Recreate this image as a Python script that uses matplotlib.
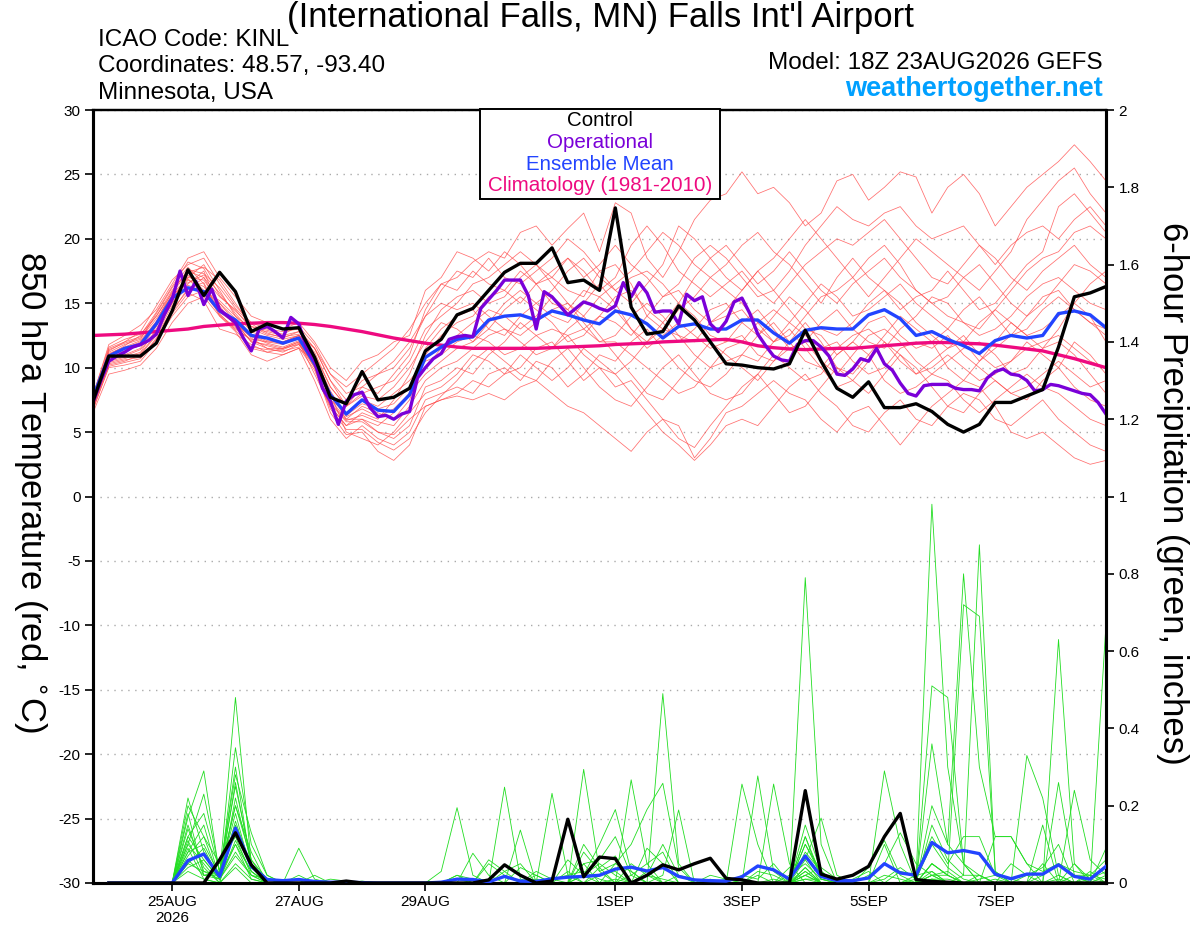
import numpy as np
import pandas as pd
import matplotlib
matplotlib.use("Agg")
import matplotlib.pyplot as plt
import matplotlib.dates as mdates
from matplotlib.patches import Rectangle

plt.rcParams['font.family'] = ['Liberation Sans', 'DejaVu Sans']

# GEFS run 18Z 23AUG2026, 6-hourly steps out to 16 days
run_start = '2026-08-23 18:00'
n_steps = 65

tick_dates = ['2026-08-25', '2026-08-27', '2026-08-29', '2026-09-01',
              '2026-09-03', '2026-09-05', '2026-09-07']
tick_labels = ['25AUG\n2026', '27AUG', '29AUG', '1SEP', '3SEP', '5SEP', '7SEP']

## 850 hPa temperature (C)
control_t = [7.4, 10.9, 10.9, 10.9, 11.9, 14.4, 17.6, 15.6, 17.4, 15.9, 12.8, 13.4, 13.0,
             13.1, 10.8, 7.7, 7.2, 9.7, 7.5, 7.7, 8.4, 11.3, 12.2, 14.1, 14.6, 16.0,
             17.4, 18.1, 18.1, 19.3, 16.6, 16.8, 16.0, 22.4, 14.7, 12.6, 12.8, 14.8, 13.7,
             12.0, 10.3, 10.2, 10.0, 9.9, 10.3, 12.9, 10.5, 8.4, 7.7, 8.9, 6.9, 6.9,
             7.2, 6.6, 5.6, 5.0, 5.6, 7.3, 7.3, 7.8, 8.3, 11.6, 15.5, 15.8, 16.3]

mean_t = [7.7, 10.9, 11.5, 11.8, 13.4, 15.4, 16.2, 15.9, 14.4, 13.7, 12.5, 12.3, 11.9,
          12.3, 10.3, 7.9, 6.4, 7.5, 6.7, 6.6, 7.9, 10.8, 11.6, 12.2, 12.4, 13.7,
          14.0, 14.1, 13.7, 14.4, 14.1, 13.7, 13.4, 14.4, 14.1, 13.4, 12.3, 13.2, 13.4,
          13.0, 13.0, 13.7, 13.7, 12.7, 11.9, 12.9, 13.1, 13.0, 13.0, 14.1, 14.5, 13.8,
          12.5, 12.8, 12.2, 11.7, 11.1, 12.1, 12.5, 12.3, 12.5, 14.2, 14.4, 14.1, 13.1]

clim_t = [12.5, 12.55, 12.6, 12.7, 12.8, 12.9, 13.0, 13.2, 13.3, 13.4, 13.45, 13.5, 13.5,
          13.45, 13.35, 13.2, 13.0, 12.8, 12.55, 12.3, 12.1, 11.9, 11.75, 11.6, 11.5, 11.5,
          11.5, 11.5, 11.5, 11.55, 11.6, 11.65, 11.7, 11.8, 11.85, 11.9, 12.0, 12.05, 12.1,
          12.15, 12.2, 12.0, 11.7, 11.55, 11.45, 11.4, 11.45, 11.5, 11.5, 11.6, 11.7, 11.8,
          11.9, 11.95, 11.95, 11.9, 11.85, 11.75, 11.6, 11.45, 11.3, 11.0, 10.7, 10.35, 10.0]

# operational run comes in 3-hourly
oper_t = [7.3, 9.0, 10.5, 10.9, 11.2, 11.6, 11.8, 12.1, 12.6, 14.1, 15.3, 17.5, 15.6, 16.7,
          14.9, 16.1, 14.5, 14.0, 13.5, 12.3, 11.3, 13.0, 13.2, 12.8, 12.3, 13.9, 13.4,
          11.5, 10.5, 8.4, 7.4, 5.6, 7.4, 7.9, 8.1, 6.9, 6.2, 6.3, 6.0, 6.4, 6.6, 9.2,
          10.0, 10.7, 11.1, 12.2, 12.4, 12.5, 12.4, 14.6, 15.3, 16.0, 16.8, 16.8, 16.8,
          15.6, 13.0, 15.9, 15.5, 14.8, 14.1, 14.6, 15.1, 14.9, 14.6, 14.4, 14.8, 16.6,
          15.5, 16.6, 15.8, 14.3, 14.4, 14.4, 13.4, 15.7, 15.2, 15.5, 13.4, 12.8, 13.6,
          15.1, 15.4, 14.2, 12.6, 11.7, 10.9, 10.6, 10.5, 11.8, 12.1, 12.1, 11.6, 10.9,
          9.5, 9.4, 9.9, 10.7, 10.5, 11.5, 10.3, 9.8, 8.8, 8.0, 7.8, 8.6, 8.7, 8.7, 8.7,
          8.4, 8.3, 8.3, 8.2, 9.2, 9.7, 9.9, 9.5, 9.4, 9.0, 8.2, 8.3, 8.7, 8.6, 8.4, 8.2,
          8.0, 7.9, 7.3, 6.4]

# ensemble members
mem_t01 = [7.2, 11.5, 12.0, 12.4, 14.0, 16.0, 17.5, 17.0, 15.5, 14.5, 13.0, 12.8, 12.5,
           12.8, 11.0, 8.5, 7.0, 8.5, 8.0, 9.5, 11.0, 14.5, 16.5, 17.0, 18.2, 19.0, 18.5,
           20.5, 21.0, 19.5, 20.8, 22.0, 19.0, 22.8, 22.0, 18.5, 17.0, 19.0, 21.5, 23.0,
           23.5, 25.2, 23.5, 24.0, 22.8, 21.0, 22.0, 24.5, 25.0, 23.0, 24.0, 25.2, 24.8,
           22.0, 24.0, 25.0, 23.5, 21.0, 22.5, 24.0, 25.0, 26.0, 27.3, 26.0, 24.5]
mem_t02 = [6.8, 10.0, 10.2, 10.5, 12.0, 14.0, 15.5, 16.0, 15.0, 13.5, 12.0, 11.5, 11.5,
           11.8, 10.0, 6.5, 4.8, 5.0, 3.5, 2.8, 4.0, 7.0, 7.5, 7.8, 7.5, 8.0, 7.5, 8.5,
           9.0, 8.0, 7.0, 6.5, 5.5, 4.5, 3.5, 5.0, 6.0, 5.5, 3.0, 4.5, 6.5, 7.0, 8.0, 9.0,
           8.0, 7.5, 6.0, 5.0, 6.5, 7.0, 5.5, 4.0, 5.5, 7.0, 8.0, 9.0, 8.5, 7.0, 5.0, 4.5,
           5.0, 4.0, 3.0, 2.5, 2.8]
mem_t03 = [7.5, 11.0, 11.5, 12.0, 13.5, 15.5, 17.0, 18.0, 16.0, 14.0, 12.5, 12.0, 12.0,
           12.5, 10.5, 7.5, 6.0, 7.0, 6.5, 6.0, 7.5, 11.0, 12.5, 13.5, 14.0, 15.5, 16.0,
           15.0, 16.5, 17.0, 16.0, 15.5, 17.5, 18.0, 16.5, 14.0, 13.0, 14.5, 15.5, 17.0,
           16.0, 15.0, 13.5, 12.0, 12.5, 14.0, 15.5, 16.0, 17.0, 18.5, 19.5, 18.0, 16.0,
           15.0, 14.0, 13.5, 13.0, 14.5, 16.0, 17.5, 18.5, 19.0, 20.5, 21.0, 20.0]
mem_t04 = [7.0, 10.5, 10.8, 11.2, 13.0, 15.0, 16.5, 17.5, 14.5, 13.5, 12.0, 11.8, 11.5,
           12.0, 9.5, 7.0, 5.5, 6.0, 5.0, 4.5, 5.5, 8.5, 9.0, 10.0, 9.5, 11.0, 12.0, 13.5,
           12.5, 11.5, 13.0, 14.0, 12.5, 11.0, 9.5, 8.0, 7.5, 9.0, 10.5, 12.0, 11.0, 10.0,
           9.0, 10.5, 11.5, 12.0, 10.5, 9.5, 11.0, 12.5, 13.0, 12.0, 10.5, 9.5, 10.5, 11.5,
           12.0, 11.0, 9.5, 10.0, 11.5, 12.0, 11.0, 9.5, 8.0]
mem_t05 = [7.8, 11.8, 12.5, 13.3, 14.5, 16.5, 18.5, 19.0, 17.0, 15.5, 14.0, 13.5, 13.0,
           13.5, 12.0, 10.0, 9.0, 10.5, 11.0, 12.0, 12.5, 16.0, 17.0, 19.0, 18.5, 17.5,
           19.0, 18.0, 16.5, 15.0, 14.5, 16.0, 15.5, 16.5, 17.5, 19.0, 20.5, 19.5, 18.0,
           17.0, 18.0, 19.5, 20.5, 19.0, 18.0, 16.5, 15.0, 17.0, 18.5, 17.0, 16.0, 14.5,
           15.5, 16.0, 17.5, 16.0, 14.5, 15.0, 16.5, 18.0, 19.0, 22.5, 23.5, 22.0, 20.5]
mem_t06 = [6.5, 9.5, 9.8, 10.2, 11.5, 13.5, 15.0, 15.5, 14.0, 12.8, 11.0, 10.5, 11.0,
           11.5, 10.5, 8.0, 5.0, 4.5, 4.0, 5.0, 6.5, 8.0, 8.5, 9.5, 11.0, 10.5, 9.5, 10.0,
           11.5, 12.0, 10.5, 9.0, 10.0, 8.5, 9.0, 7.5, 6.0, 4.5, 3.8, 5.5, 7.0, 8.5, 9.5,
           8.0, 6.5, 7.0, 8.5, 10.0, 9.0, 8.0, 9.5, 11.0, 10.0, 8.5, 7.0, 6.5, 8.0, 9.0,
           8.0, 7.5, 9.0, 10.0, 12.0, 11.0, 9.5]
mem_t07 = [7.3, 11.2, 11.8, 12.2, 14.2, 16.2, 17.8, 16.5, 14.0, 13.0, 12.2, 12.0, 11.8,
           12.3, 10.0, 7.0, 5.5, 6.5, 6.0, 7.5, 9.5, 12.5, 14.5, 15.5, 16.0, 15.0, 15.5,
           17.0, 18.0, 16.5, 15.0, 14.0, 15.5, 14.5, 13.0, 12.0, 13.5, 15.0, 14.0, 12.5,
           12.0, 13.5, 14.5, 13.0, 11.5, 12.0, 13.5, 14.5, 13.0, 12.0, 11.5, 13.0, 14.0,
           15.5, 15.0, 13.5, 12.5, 13.0, 14.0, 15.5, 16.5, 17.0, 16.0, 15.0, 14.5]
mem_t08 = [7.6, 10.8, 11.0, 11.5, 13.2, 15.2, 17.2, 16.0, 15.2, 14.0, 13.0, 12.5, 12.2,
           12.5, 11.5, 9.5, 8.0, 8.5, 9.5, 10.5, 12.0, 14.0, 15.0, 14.5, 15.0, 14.0, 13.0,
           12.5, 13.5, 14.5, 15.0, 13.5, 12.0, 12.5, 14.0, 15.0, 14.0, 12.5, 12.0, 13.5,
           14.5, 16.0, 17.5, 16.0, 14.5, 13.0, 12.5, 11.0, 12.0, 13.5, 14.0, 12.5, 11.5,
           12.0, 13.0, 12.0, 10.5, 11.5, 12.5, 14.0, 15.0, 16.5, 18.0, 17.5, 16.5]
mem_t09 = [7.1, 10.2, 10.5, 11.0, 12.5, 14.5, 16.0, 17.0, 14.8, 13.2, 11.5, 11.2, 11.0,
           11.5, 9.0, 6.0, 4.5, 5.5, 4.5, 4.0, 5.0, 7.5, 8.0, 8.5, 8.0, 9.5, 10.0, 9.0,
           10.5, 10.0, 8.5, 9.5, 11.0, 10.5, 12.0, 13.0, 11.5, 10.0, 9.0, 8.5, 9.5, 11.0,
           10.5, 12.0, 13.0, 11.5, 10.0, 8.5, 9.0, 10.5, 12.0, 11.0, 9.5, 10.0, 11.0, 10.0,
           9.0, 9.5, 10.5, 12.0, 11.0, 10.0, 8.5, 7.5, 7.0]
mem_t10 = [7.4, 11.3, 12.0, 12.8, 14.8, 16.8, 18.0, 18.5, 16.5, 14.8, 13.5, 13.0, 12.8,
           13.0, 11.5, 9.0, 7.5, 9.0, 9.5, 10.0, 11.5, 14.0, 16.0, 17.5, 17.0, 18.5, 17.0,
           16.5, 17.5, 18.5, 20.0, 19.0, 17.5, 16.0, 15.0, 16.5, 18.0, 21.0, 20.0, 18.5,
           17.0, 16.0, 17.5, 18.5, 20.0, 21.5, 20.0, 18.5, 17.0, 15.5, 17.0, 18.5, 20.0,
           19.0, 18.0, 17.0, 16.0, 17.5, 19.0, 21.5, 23.0, 24.5, 25.5, 23.5, 22.0]
mem_t11 = [7.0, 10.6, 10.9, 11.4, 12.8, 15.0, 16.8, 16.3, 14.6, 13.5, 12.3, 11.5, 11.2,
           11.8, 10.5, 7.5, 6.5, 7.5, 7.0, 8.0, 9.0, 10.5, 11.0, 12.0, 12.5, 12.0, 11.0,
           11.5, 12.5, 13.0, 12.5, 11.0, 10.0, 9.5, 10.5, 12.0, 13.0, 12.5, 11.0, 10.0,
           10.5, 11.0, 12.5, 13.5, 12.0, 10.5, 10.0, 11.5, 12.5, 13.0, 12.0, 10.5, 9.5,
           10.5, 11.5, 12.5, 11.0, 10.0, 10.5, 11.5, 12.0, 12.5, 11.5, 10.5, 10.0]
mem_t12 = [7.9, 11.6, 12.2, 12.6, 14.0, 15.8, 17.4, 17.8, 16.8, 15.0, 13.2, 12.6, 12.4,
           12.6, 10.8, 8.0, 6.0, 6.0, 5.5, 6.5, 8.0, 11.5, 13.0, 14.0, 14.5, 13.0, 12.5,
           14.0, 15.0, 14.0, 13.5, 15.0, 16.5, 15.0, 13.0, 11.5, 12.5, 13.5, 12.5, 11.5,
           12.0, 12.5, 11.0, 10.5, 12.0, 13.5, 12.0, 10.0, 9.5, 11.0, 12.5, 14.0, 13.0,
           12.0, 10.0, 9.0, 10.5, 12.0, 13.5, 12.5, 11.5, 13.0, 15.0, 14.0, 12.0]
mem_t13 = [6.9, 10.3, 10.6, 10.8, 12.2, 14.2, 15.8, 15.2, 13.0, 12.6, 11.8, 11.2, 11.5,
           12.0, 10.2, 7.2, 5.8, 5.8, 5.0, 4.8, 6.0, 7.0, 7.5, 8.0, 9.0, 8.5, 9.5, 11.0,
           10.0, 9.0, 10.0, 11.5, 10.5, 9.5, 8.0, 6.5, 5.0, 4.0, 2.8, 4.0, 5.5, 6.0, 5.5,
           7.0, 8.5, 9.5, 8.0, 7.0, 5.5, 5.0, 6.5, 7.5, 6.0, 5.5, 7.0, 8.0, 7.5, 6.0, 5.5,
           6.5, 7.5, 6.0, 5.0, 4.0, 3.5]
mem_t14 = [7.7, 11.4, 11.9, 12.3, 13.8, 15.6, 16.6, 17.2, 15.8, 14.2, 12.8, 12.3, 12.0,
           12.5, 11.2, 8.5, 7.0, 8.0, 8.5, 9.0, 10.5, 13.0, 14.0, 15.0, 16.5, 17.0, 18.0,
           19.0, 18.0, 17.0, 18.5, 17.5, 16.0, 17.0, 19.5, 21.0, 19.5, 17.5, 16.5, 15.5,
           16.5, 17.5, 16.0, 15.0, 16.5, 18.0, 19.0, 20.0, 19.5, 20.5, 21.5, 20.0, 18.5,
           17.0, 16.5, 18.0, 19.5, 18.5, 17.0, 16.0, 17.5, 18.5, 19.5, 18.0, 17.0]
mem_t15 = [7.2, 10.9, 11.3, 11.7, 13.3, 15.3, 16.9, 15.7, 14.3, 13.4, 12.4, 11.9, 11.6,
           12.1, 10.4, 7.8, 6.3, 7.2, 6.8, 7.2, 8.5, 10.0, 11.5, 12.5, 13.5, 14.5, 14.0,
           13.0, 14.0, 15.5, 14.5, 13.0, 14.0, 13.5, 12.5, 14.0, 15.5, 16.0, 14.5, 13.5,
           14.0, 14.5, 13.0, 12.0, 13.5, 15.0, 16.5, 15.5, 14.0, 14.5, 15.5, 16.5, 15.0,
           14.0, 13.0, 14.5, 15.5, 14.0, 12.5, 13.0, 14.5, 15.5, 14.5, 13.5, 12.5]
mem_t16 = [7.5, 11.1, 11.6, 12.1, 13.6, 15.9, 17.6, 17.3, 16.2, 14.6, 13.4, 12.7, 12.3,
           12.8, 11.5, 9.0, 7.0, 7.8, 7.5, 8.5, 10.0, 12.0, 13.5, 13.0, 12.0, 13.5, 15.0,
           16.0, 15.0, 16.0, 17.5, 18.5, 17.0, 16.0, 17.0, 17.5, 16.5, 15.0, 17.0, 18.5,
           19.5, 18.0, 16.5, 17.5, 19.0, 17.5, 16.0, 15.0, 16.5, 17.5, 18.5, 17.0, 16.0,
           15.0, 15.5, 17.0, 18.0, 16.5, 15.0, 14.0, 15.5, 16.0, 14.5, 13.5, 13.0]
mem_t17 = [7.3, 10.7, 11.2, 11.9, 13.5, 15.7, 17.0, 16.8, 15.0, 13.8, 12.6, 12.1, 11.9,
           12.4, 10.8, 8.2, 6.2, 6.8, 6.2, 6.8, 8.0, 9.5, 10.5, 11.5, 12.0, 13.0, 14.5,
           15.5, 14.5, 13.5, 12.0, 12.5, 14.0, 15.5, 16.0, 14.5, 13.5, 12.0, 13.0, 14.5,
           15.0, 13.5, 12.5, 14.0, 15.5, 14.5, 13.0, 12.5, 13.5, 15.0, 16.0, 15.0, 13.5,
           12.5, 11.5, 12.0, 13.5, 14.5, 13.5, 12.5, 13.0, 14.0, 15.0, 16.5, 17.5]
mem_t18 = [6.7, 10.1, 10.4, 10.7, 12.3, 14.3, 16.2, 16.6, 14.2, 12.9, 11.6, 11.4, 11.3,
           11.6, 9.8, 6.8, 5.2, 5.2, 4.2, 3.6, 4.5, 6.5, 7.8, 9.0, 10.5, 11.5, 10.5, 9.5,
           9.0, 10.5, 11.5, 10.0, 8.5, 7.5, 7.0, 8.5, 10.0, 11.0, 9.5, 8.0, 7.5, 8.0, 9.5,
           11.0, 10.0, 9.0, 9.5, 11.0, 12.0, 11.0, 9.0, 8.0, 8.5, 9.5, 9.0, 7.5, 6.5, 7.5,
           8.5, 9.5, 8.5, 8.0, 7.0, 6.0, 5.5]
mem_t19 = [7.6, 11.0, 11.7, 12.5, 14.3, 16.3, 18.2, 17.7, 15.6, 14.4, 13.2, 12.9, 12.6,
           13.2, 11.8, 9.5, 8.5, 9.5, 10.5, 11.5, 13.0, 15.0, 16.5, 16.0, 17.5, 16.5, 16.0,
           17.5, 16.5, 17.5, 18.5, 17.0, 18.0, 19.5, 18.0, 17.0, 15.5, 16.5, 18.5, 19.5,
           18.5, 17.0, 15.5, 16.0, 17.5, 19.5, 21.0, 22.5, 21.5, 21.0, 22.0, 22.5, 21.0,
           20.0, 20.5, 21.0, 19.5, 18.0, 19.5, 20.5, 21.0, 20.0, 21.5, 22.5, 21.0]
mem_t20 = [7.0, 10.4, 10.7, 11.1, 12.6, 14.8, 16.4, 15.9, 14.1, 13.1, 12.1, 11.7, 11.4,
           11.9, 10.1, 7.3, 5.9, 6.3, 5.8, 5.5, 7.0, 9.0, 10.0, 10.5, 11.5, 12.5, 13.0,
           12.0, 11.0, 11.5, 12.5, 13.0, 12.0, 12.0, 11.0, 10.0, 9.0, 8.0, 8.5, 10.0, 11.5,
           12.0, 13.5, 14.5, 13.5, 12.5, 11.5, 12.0, 10.5, 9.5, 10.0, 11.5, 12.0, 11.5,
           12.5, 11.0, 10.0, 9.0, 8.0, 8.5, 9.5, 10.5, 9.5, 8.5, 9.0]

members_t = [mem_t01, mem_t02, mem_t03, mem_t04, mem_t05, mem_t06, mem_t07, mem_t08,
             mem_t09, mem_t10, mem_t11, mem_t12, mem_t13, mem_t14, mem_t15, mem_t16,
             mem_t17, mem_t18, mem_t19, mem_t20]

## 6-hour precipitation (inches), first value is 24AUG 00Z
control_p = [0, 0, 0, 0, 0, 0, 0, 0.06, 0.13, 0.047, 0, 0, 0, 0, 0, 0.005,
             0, 0, 0, 0, 0, 0, 0, 0, 0.008, 0.047, 0.02, 0, 0.005, 0.165, 0.016, 0.067,
             0.063, 0, 0.02, 0.047, 0.034, 0.05, 0.064, 0.012, 0.008, 0, 0, 0, 0.239, 0.023, 0.01, 0.02,
             0.043, 0.12, 0.18, 0.009, 0.004, 0.002, 0, 0, 0, 0, 0, 0, 0, 0, 0, 0]

mean_p = [0, 0, 0, 0, 0, 0.058, 0.075, 0.017, 0.142, 0.043, 0.009, 0.006, 0.009, 0.004, 0.002, 0.002,
          0.001, 0, 0, 0, 0, 0.002, 0.01, 0.009, 0.003, 0.017, 0.005, 0.004, 0.011, 0.015, 0.017, 0.02,
          0.036, 0.041, 0.031, 0.04, 0.017, 0.008, 0.006, 0.005, 0.016, 0.044, 0.034, 0.01, 0.07, 0.017, 0.006, 0.006,
          0.013, 0.05, 0.026, 0.02, 0.105, 0.078, 0.084, 0.076, 0.023, 0.011, 0.023, 0.023, 0.047, 0.017, 0.01, 0.043]

mem_p01 = [0, 0, 0, 0, 0, 0.17, 0.29, 0.02, 0.48, 0.05, 0.01, 0, 0, 0, 0, 0,
           0, 0, 0, 0, 0, 0.03, 0.195, 0.02, 0, 0, 0, 0, 0, 0, 0.02, 0.05,
           0.02, 0, 0, 0.49, 0.05, 0, 0, 0, 0, 0, 0, 0, 0.79, 0.1, 0, 0,
           0, 0, 0, 0, 0.02, 0, 0, 0, 0, 0, 0, 0, 0.63, 0.05, 0, 0]
mem_p02 = [0, 0, 0, 0, 0, 0.2, 0.12, 0.01, 0.35, 0.1, 0.02, 0, 0.09, 0.01, 0, 0,
           0.005, 0, 0, 0, 0, 0, 0.02, 0, 0, 0.248, 0.01, 0, 0, 0, 0.294, 0.03,
           0, 0, 0, 0, 0, 0, 0, 0, 0, 0, 0, 0.02, 0.05, 0.01, 0, 0,
           0, 0, 0, 0.01, 0.98, 0.3, 0.05, 0, 0, 0, 0, 0, 0, 0, 0, 0.09]
mem_p03 = [0, 0, 0, 0, 0, 0.12, 0.18, 0.03, 0.28, 0.13, 0.02, 0, 0, 0, 0.01, 0.005,
           0, 0, 0, 0, 0, 0, 0, 0.077, 0.02, 0, 0.137, 0, 0.232, 0.02, 0, 0,
           0, 0.267, 0.05, 0, 0, 0, 0, 0, 0.256, 0.1, 0, 0, 0.12, 0.02, 0, 0,
           0.04, 0.11, 0.02, 0, 0.51, 0.48, 0.05, 0, 0, 0, 0, 0, 0, 0.02, 0, 0]
mem_p04 = [0, 0, 0, 0, 0, 0.1, 0.05, 0, 0.22, 0.05, 0, 0, 0, 0, 0, 0,
           0, 0, 0, 0, 0, 0, 0, 0, 0, 0, 0, 0, 0, 0, 0, 0,
           0.05, 0.1, 0.19, 0.258, 0.04, 0, 0, 0.01, 0, 0.277, 0.03, 0, 0.08, 0.03, 0, 0,
           0, 0.29, 0.1, 0, 0.36, 0.1, 0.8, 0.3, 0.12, 0.12, 0.05, 0, 0.02, 0, 0, 0]
mem_p05 = [0, 0, 0, 0, 0, 0.22, 0.08, 0.02, 0.3, 0.04, 0.01, 0, 0.02, 0, 0, 0,
           0, 0, 0, 0, 0, 0, 0, 0, 0.05, 0.02, 0, 0, 0, 0.06, 0.02, 0.1,
           0.19, 0.03, 0, 0.02, 0.189, 0, 0, 0, 0, 0, 0.256, 0.05, 0, 0, 0, 0,
           0, 0.02, 0.01, 0, 0.05, 0.02, 0.72, 0.69, 0.03, 0, 0.33, 0.22, 0.02, 0, 0, 0]
mem_p06 = [0, 0, 0, 0, 0, 0.15, 0.03, 0.02, 0.18, 0.03, 0, 0, 0, 0.02, 0, 0,
           0, 0, 0, 0, 0, 0, 0, 0, 0, 0, 0, 0, 0, 0, 0, 0.04,
           0.07, 0, 0.02, 0.1, 0.02, 0, 0, 0, 0, 0, 0, 0.04, 0.06, 0.168, 0.02, 0,
           0, 0, 0, 0, 0.15, 0.06, 0.02, 0.875, 0.03, 0, 0, 0, 0.26, 0.02, 0, 0.67]
mem_p07 = [0, 0, 0, 0, 0, 0.18, 0.02, 0.03, 0.25, 0.06, 0.01, 0, 0, 0, 0, 0,
           0, 0, 0, 0, 0, 0, 0, 0, 0, 0, 0, 0.02, 0, 0, 0, 0,
           0, 0, 0, 0, 0, 0, 0, 0, 0, 0, 0, 0, 0.15, 0.03, 0, 0.01,
           0.03, 0, 0, 0, 0.2, 0.1, 0.05, 0.02, 0, 0.05, 0.02, 0, 0, 0.24, 0.06, 0.02]
mem_p08 = [0, 0, 0, 0, 0, 0.08, 0.1, 0.02, 0.2, 0.08, 0, 0, 0, 0, 0, 0,
           0, 0, 0, 0, 0, 0, 0, 0, 0, 0, 0, 0, 0, 0, 0.05, 0.06,
           0.12, 0.02, 0.05, 0.08, 0, 0, 0, 0, 0.02, 0.01, 0.05, 0, 0.1, 0.03, 0, 0,
           0, 0, 0, 0, 0.05, 0.02, 0, 0, 0.12, 0.12, 0.05, 0.03, 0.05, 0.02, 0.02, 0.01]
mem_p09 = [0, 0, 0, 0, 0, 0.14, 0.04, 0, 0.15, 0.04, 0, 0, 0, 0, 0, 0,
           0, 0, 0, 0, 0, 0, 0, 0, 0.06, 0.03, 0.05, 0, 0, 0, 0, 0,
           0, 0, 0.03, 0, 0, 0, 0, 0, 0, 0.02, 0, 0, 0.04, 0, 0, 0,
           0, 0.1, 0, 0, 0.02, 0.03, 0, 0, 0, 0, 0, 0.02, 0.05, 0.03, 0.02, 0.06]
mem_p10 = [0, 0, 0, 0, 0, 0.07, 0.12, 0.05, 0.12, 0.02, 0.01, 0, 0, 0, 0, 0,
           0, 0, 0, 0, 0, 0, 0, 0, 0, 0, 0, 0.03, 0.01, 0, 0.1, 0.04,
           0, 0, 0, 0, 0.02, 0.01, 0, 0, 0, 0, 0, 0, 0.02, 0.04, 0.01, 0,
           0, 0, 0, 0.02, 0.03, 0, 0, 0.01, 0.02, 0.01, 0, 0.15, 0, 0, 0.03, 0]
mem_p11 = [0, 0, 0, 0, 0, 0.05, 0.03, 0.01, 0.1, 0.03, 0, 0, 0, 0, 0, 0,
           0, 0, 0, 0, 0, 0, 0.01, 0, 0, 0, 0, 0, 0, 0, 0, 0,
           0, 0.05, 0.02, 0, 0, 0, 0, 0, 0, 0, 0, 0, 0.03, 0, 0, 0,
           0.02, 0.05, 0.13, 0.05, 0.02, 0, 0, 0.02, 0, 0, 0.02, 0.04, 0.1, 0, 0, 0]
mem_p12 = [0, 0, 0, 0, 0, 0.04, 0.06, 0.01, 0.08, 0.02, 0, 0, 0, 0, 0, 0,
           0, 0, 0, 0, 0, 0, 0.02, 0.01, 0, 0.03, 0, 0, 0, 0, 0, 0,
           0, 0, 0.09, 0.05, 0, 0, 0, 0, 0, 0, 0, 0, 0.04, 0, 0, 0,
           0, 0, 0, 0, 0.01, 0.01, 0, 0, 0, 0, 0, 0, 0, 0.05, 0.01, 0]
mem_p13 = [0, 0, 0, 0, 0, 0.09, 0.01, 0, 0.05, 0.01, 0, 0, 0, 0, 0, 0,
           0, 0, 0, 0, 0, 0, 0, 0, 0, 0, 0, 0, 0, 0, 0.02, 0,
           0, 0.02, 0, 0, 0, 0, 0.01, 0, 0, 0, 0, 0, 0.01, 0, 0, 0,
           0, 0.01, 0.04, 0.01, 0.1, 0.04, 0.01, 0, 0.01, 0, 0, 0, 0, 0, 0, 0]
mem_p14 = [0, 0, 0, 0, 0, 0.06, 0.02, 0.01, 0.07, 0.02, 0, 0, 0, 0, 0, 0,
           0, 0, 0, 0, 0, 0, 0, 0, 0, 0, 0, 0.01, 0, 0.03, 0, 0,
           0.01, 0, 0, 0, 0, 0, 0, 0, 0, 0, 0, 0, 0.06, 0, 0, 0,
           0, 0, 0, 0, 0, 0, 0.02, 0.02, 0, 0, 0, 0, 0, 0, 0.01, 0.03]
mem_p15 = [0, 0, 0, 0, 0, 0.11, 0.02, 0.02, 0.1, 0.01, 0, 0, 0, 0, 0, 0,
           0, 0, 0, 0, 0, 0, 0, 0, 0, 0, 0, 0, 0, 0, 0.05, 0,
           0, 0, 0, 0, 0, 0, 0.02, 0.01, 0, 0, 0, 0, 0.02, 0, 0, 0,
           0, 0, 0, 0, 0.03, 0, 0, 0, 0, 0, 0, 0.05, 0, 0, 0, 0]
mem_p16 = [0, 0, 0, 0, 0, 0.03, 0.01, 0, 0.04, 0, 0, 0, 0, 0, 0, 0,
           0, 0, 0, 0, 0, 0, 0, 0, 0, 0, 0, 0, 0, 0, 0, 0,
           0, 0, 0, 0, 0, 0, 0, 0, 0, 0, 0, 0, 0.01, 0.01, 0, 0,
           0, 0, 0, 0, 0.01, 0, 0, 0, 0, 0, 0, 0, 0, 0, 0, 0]
mem_p17 = [0, 0, 0, 0, 0, 0.1, 0.23, 0.03, 0.2, 0.06, 0, 0, 0, 0, 0, 0,
           0, 0, 0, 0, 0, 0, 0, 0, 0, 0, 0.04, 0.02, 0, 0, 0.08, 0.03,
           0.05, 0.03, 0, 0, 0, 0, 0, 0, 0, 0.03, 0.02, 0, 0.1, 0.02, 0, 0,
           0, 0, 0.03, 0.02, 0.12, 0.05, 0.12, 0.12, 0.02, 0, 0, 0, 0, 0, 0.02, 0]
mem_p18 = [0, 0, 0, 0, 0, 0.12, 0.06, 0.01, 0.16, 0.04, 0.01, 0, 0, 0, 0, 0,
           0, 0, 0, 0, 0, 0, 0, 0, 0, 0, 0, 0, 0.01, 0.02, 0.03, 0.01,
           0, 0, 0.02, 0.01, 0, 0, 0, 0, 0, 0, 0.01, 0, 0.12, 0.01, 0, 0,
           0, 0, 0, 0, 0.05, 0.02, 0, 0, 0, 0, 0, 0, 0.01, 0, 0, 0.02]
mem_p19 = [0, 0, 0, 0, 0, 0.08, 0.15, 0.01, 0.26, 0.05, 0, 0, 0, 0, 0, 0,
           0, 0, 0, 0, 0, 0, 0, 0, 0, 0, 0, 0, 0, 0, 0, 0,
           0, 0, 0, 0, 0, 0, 0, 0, 0, 0, 0, 0, 0.02, 0, 0, 0,
           0, 0, 0, 0, 0.02, 0.02, 0, 0, 0, 0, 0, 0, 0, 0, 0, 0]
mem_p20 = [0, 0, 0, 0, 0, 0.05, 0.09, 0.01, 0.11, 0.03, 0, 0, 0, 0, 0, 0,
           0, 0, 0, 0, 0, 0, 0, 0, 0, 0, 0, 0, 0, 0, 0, 0.02,
           0.03, 0, 0, 0, 0, 0, 0, 0, 0, 0, 0, 0, 0.03, 0, 0, 0,
           0, 0, 0, 0, 0.01, 0, 0, 0, 0, 0, 0, 0, 0, 0, 0, 0]

members_p = [mem_p01, mem_p02, mem_p03, mem_p04, mem_p05, mem_p06, mem_p07, mem_p08,
             mem_p09, mem_p10, mem_p11, mem_p12, mem_p13, mem_p14, mem_p15, mem_p16,
             mem_p17, mem_p18, mem_p19, mem_p20]

# time axes
times = pd.date_range(run_start, periods=n_steps, freq='6h')
times_oper = pd.date_range(run_start, periods=len(oper_t), freq='3h')
times_p = times[1:]

fig = plt.figure(figsize=(12, 9.27), dpi=100)
ax = fig.add_axes([93/1200, 1 - 883/927, 1013/1200, 773/927])

# temperature
for m in members_t:
	ax.plot(times, m, color='#ff4a4a', lw=0.55, alpha=0.8, zorder=2)
ax.plot(times, clim_t, color='#ee0a80', lw=2.4, zorder=3)
ax.plot(times, mean_t, color='#2244ff', lw=2.4, zorder=4)
ax.plot(times_oper, oper_t, color='#7a00d8', lw=2.4, zorder=5)
ax.plot(times, control_t, color='black', lw=2.4, zorder=6)

ax.set_ylim(-30, 30)
ax.set_yticks(np.arange(-30, 31, 5))
ax.set_yticklabels([str(v) for v in range(-30, 31, 5)])
ax.set_xlim(times[0], times[-1])
ax.set_xticks(mdates.date2num(pd.to_datetime(tick_dates)))
ax.set_xticklabels(tick_labels, linespacing=1.1)
ax.grid(axis='y', color='#aaaaaa', linestyle=(0, (1, 4)), lw=1.0)
ax.tick_params(axis='both', direction='out', length=6, width=1.2, labelsize=11, pad=3)
for s in ['left', 'bottom', 'right']:
	ax.spines[s].set_linewidth(2.2)
ax.spines['top'].set_linewidth(1.6)

# precipitation on the right axis
ax2 = ax.twinx()
for m in members_p:
	ax2.plot(times_p, m, color='#22dd22', lw=0.6, zorder=2)
ax2.plot(times_p, mean_p, color='#2244ff', lw=2.4, zorder=4)
ax2.plot(times_p, control_p, color='black', lw=2.4, zorder=5)
ax2.set_ylim(0, 2)
ax2.set_yticks(np.arange(0, 2.01, 0.2))
ax2.set_yticklabels(['{:g}'.format(round(v, 1)) for v in np.arange(0, 2.01, 0.2)])
ax2.tick_params(axis='y', direction='out', length=6, width=1.2, labelsize=11, pad=3)
ax2.spines['right'].set_linewidth(2.2)
ax2.spines['left'].set_linewidth(2.2)
ax2.spines['bottom'].set_linewidth(2.2)
ax2.spines['top'].set_linewidth(1.6)

# axis titles
fig.text(30/1200, 1 - 492/927, '850 hPa Temperature (red, $^{\\circ}$C)', rotation=270,
         ha='center', va='center', fontsize=25)
fig.text(1172/1200, 1 - 493/927, '6-hour Precipitation (green, inches)', rotation=270,
         ha='center', va='center', fontsize=25)

# header
fig.text(0.5, 1 - 18/927, "(International Falls, MN) Falls Int'l Airport",
         ha='center', va='center', fontsize=25)
fig.text(98/1200, 1 - 40/927, 'ICAO Code: KINL', ha='left', va='center', fontsize=17.5)
fig.text(98/1200, 1 - 66/927, 'Coordinates: 48.57, -93.40', ha='left', va='center', fontsize=17.5)
fig.text(98/1200, 1 - 93/927, 'Minnesota, USA', ha='left', va='center', fontsize=17.5)
fig.text(1103/1200, 1 - 63/927, 'Model: 18Z 23AUG2026 GEFS', ha='right', va='center', fontsize=17.5)
fig.text(1103/1200, 1 - 89/927, 'weathertogether.net', ha='right', va='center',
         fontsize=19.5, fontweight='bold', color='#00a0ff')

# legend box
fig.add_artist(Rectangle((480/1200, 1 - 199/927), 240/1200, 90/927, transform=fig.transFigure,
                         facecolor='white', edgecolor='black', lw=1.4, zorder=5))
legend_items = [('Control', 'black'), ('Operational', '#7a00d8'),
                ('Ensemble Mean', '#2244ff'), ('Climatology (1981-2010)', '#ee0a80')]
for i, (lab, col) in enumerate(legend_items):
	fig.text(600/1200, 1 - (121 + i*21.5)/927, lab, color=col, ha='center', va='center',
	         fontsize=14.8, zorder=6)

fig.savefig('out.png', dpi=100)
